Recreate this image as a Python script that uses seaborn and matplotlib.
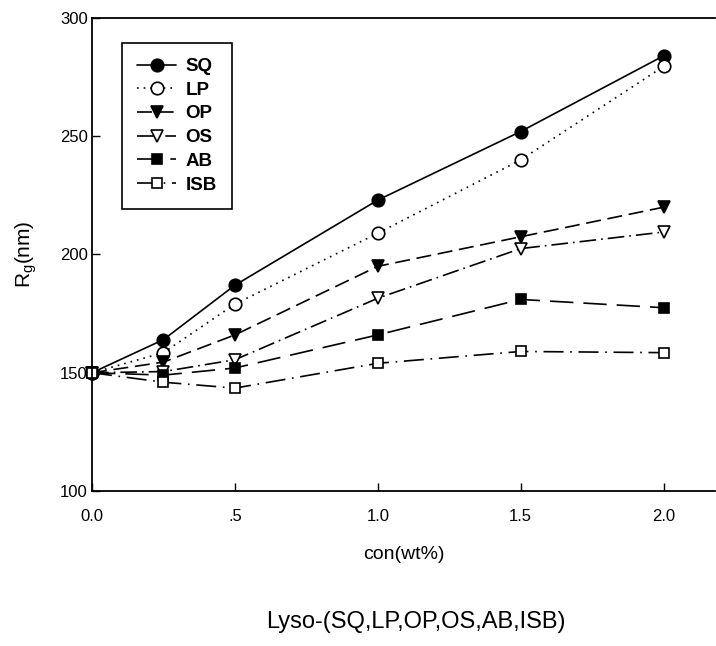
import matplotlib
matplotlib.use("Agg")
import matplotlib.pyplot as plt
import seaborn as sns
import pandas as pd

conc = [0.0, 0.25, 0.5, 1.0, 1.5, 2.0]
SQ = [150, 164, 187, 223, 252, 284]
LP = [150, 158.5, 179, 209, 240, 279.5]
OP = [150, 154.5, 166, 195, 207.5, 220]
OS = [150, 150.5, 155.5, 181.5, 202.5, 209.5]
AB = [150, 149, 152, 166, 181, 177.5]
ISB = [150, 146, 143.5, 154, 159, 158.5]
series_names = ["SQ", "LP", "OP", "OS", "AB", "ISB"]
xtick_vals = [0.0, 0.5, 1.0, 1.5, 2.0]
xtick_labels = ["0.0", ".5", "1.0", "1.5", "2.0"]
ytick_vals = [100, 150, 200, 250, 300]

sns.set_theme(style="ticks")
plt.rcParams['font.family'] = ['Liberation Sans', 'DejaVu Sans']
plt.rcParams['text.color'] = 'black'
plt.rcParams['axes.labelcolor'] = 'black'
plt.rcParams['xtick.color'] = 'black'
plt.rcParams['ytick.color'] = 'black'

fig = plt.figure(figsize=(7.16, 6.46), dpi=100)
ax = fig.add_axes([92/716, 1-491/646, (715-92)/716, (491-18)/646])

data = dict(zip(series_names, [SQ, LP, OP, OS, AB, ISB]))
styles = {
    "SQ": dict(linestyle="-", marker="o", mfc="black", ms=9),
    "LP": dict(linestyle=(0, (1, 3)), marker="o", mfc="white", ms=9),
    "OP": dict(linestyle=(0, (9, 4)), marker="v", mfc="black", ms=8.5),
    "OS": dict(linestyle=(0, (10, 3, 1, 3)), marker="v", mfc="white", ms=8.5),
    "AB": dict(linestyle=(0, (14, 6)), marker="s", mfc="black", ms=7.5),
    "ISB": dict(linestyle=(0, (12, 4, 1, 4)), marker="s", mfc="white", ms=7.5),
}

for name in series_names:
    df = pd.DataFrame({"x": conc, "y": data[name]})
    st = styles[name]
    sns.lineplot(data=df, x="x", y="y", ax=ax, color="black", linewidth=1.2,
                 linestyle=st["linestyle"], marker=st["marker"],
                 markerfacecolor=st["mfc"], markeredgecolor="black",
                 markeredgewidth=1.2, markersize=st["ms"],
                 label=name, clip_on=False)

ax.set_xlim(0, 2.18)
ax.set_ylim(100, 300)
ax.set_xticks(xtick_vals)
ax.set_xticklabels(xtick_labels)
ax.set_yticks(ytick_vals)
ax.tick_params(direction="in", length=6, width=1.0, labelsize=12, colors="black")
ax.tick_params(axis="x", pad=13)
ax.tick_params(axis="y", pad=3)
ax.spines["right"].set_visible(False)
for s in ["left", "bottom", "top"]:
    ax.spines[s].set_linewidth(1.3)
    ax.spines[s].set_color("black")
ax.set_xlabel("con(wt%)", fontsize=14, labelpad=16, color="black")
ax.set_ylabel(r"R$_\mathregular{g}$(nm)", fontsize=15, labelpad=15, color="black")

leg = ax.legend(loc="upper left", bbox_to_anchor=(30/623, (491-43)/473),
                frameon=True, fancybox=False, edgecolor="black", framealpha=1,
                prop={"weight": "bold", "size": 13.5}, handlelength=2.1,
                labelspacing=0.35, borderpad=0.8, handletextpad=0.5,
                borderaxespad=0)
leg.get_frame().set_linewidth(1.2)
for t in leg.get_texts():
    t.set_color("black")

fig.text(416/716, 1-622/646, "Lyso-(SQ,LP,OP,OS,AB,ISB)", fontsize=17,
         ha="center", va="center", color="black")

fig.savefig("out.png", dpi=100)
